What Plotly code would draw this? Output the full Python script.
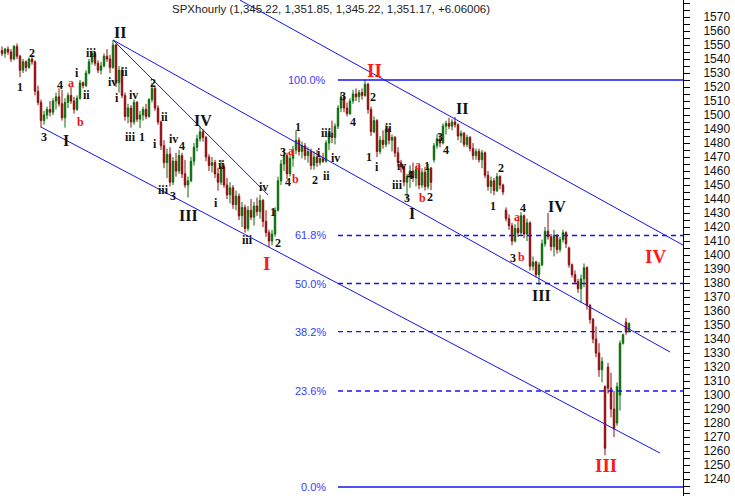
import plotly.graph_objects as go

# ---------------- data ----------------
opens = [1546,1544,1547,1545,1540,1549,1542,1532,1538,1534,1540,1538,1517,1509,1496,1500,1504,1502,1510,1513,
         1508,1498,1509,1514,1510,1504,1512,1523,1521,1530,1538,1544,1537,1532,1535,1542,1540,1534,1550,1523,
         1532,1514,1499,1505,1495,1509,1497,1500,1504,1499,1511,1519,1505,1495,1478,1466,1472,1452,1467,1460,
         1471,1458,1450,1453,1467,1477,1483,1488,1484,1470,1464,1466,1458,1452,1463,1450,1443,1448,1436,1442,
         1428,1434,1419,1432,1427,1435,1431,1439,1424,1416,1410,1415,1432,1453,1465,1471,1458,1469,1475,1482,
         1474,1478,1471,1474,1464,1470,1466,1469,1467,1480,1487,1484,1492,1505,1513,1505,1501,1510,1515,1513,
         1516,1514,1522,1504,1488,1496,1474,1482,1479,1490,1482,1484,1473,1466,1463,1452,1456,1460,1455,1461,
         1450,1459,1449,1462,1468,1478,1483,1480,1492,1494,1492,1495,1493,1485,1487,1479,1484,1476,1471,1474,
         1468,1473,1457,1449,1453,1446,1456,1450,1432,1426,1421,1410,1419,1416,1428,1415,1423,1392,1395,1386,
         1393,1408,1417,1413,1406,1414,1404,1411,1416,1405,1393,1386,1381,1376,1383,1391,1364,1354,1340,1330,
         1318,1306,1320,1305,1290,1280,1300,1337,1352,1345.22]
highs = [1549,1548,1549,1547,1550,1551,1543,1540,1539,1541,1543,1539,1521,1511,1503,1506,1510,1512,1516,1519,
         1518,1512,1516,1520,1513,1514,1525,1524,1532,1540,1546,1545,1539,1538,1544,1547,1543,1553.6,1551,1535,
         1534,1516,1508,1507,1511,1510,1503,1506,1508,1512,1523,1520,1507,1496,1482,1476,1477,1470,1473,1475,
         1473,1468,1456,1470,1480,1486,1492,1490,1485,1472,1470,1468,1462,1468,1465,1455,1452,1450,1446,1444,
         1438,1436,1435,1440,1438,1441,1443,1440,1432,1418,1418,1434,1456,1468,1476,1473,1472,1478,1489,1484,
         1481,1480,1477,1476,1474,1475,1471,1473,1482,1490,1496,1494,1507,1516,1514,1509,1512,1518,1519,1518,
         1519,1525,1523,1506,1499,1497,1485,1489,1493,1491,1486,1485,1477,1468,1465,1458,1464,1466,1463,1464,
         1462,1463,1465,1463,1480,1486,1487,1494,1496,1498,1497,1498.6,1494,1489,1488,1486,1485,1480,1476,1476,
         1475,1474,1460,1456,1455,1458.6,1457,1451,1434,1429,1423,1422,1425,1430.7,1429,1426,1424,1399,1396,1395,
         1411,1420,1430,1415,1418,1415,1413,1418,1417,1406,1394,1389,1383,1386,1394,1392,1365,1355,1349,1337,
         1327,1307,1323,1316,1303,1309,1339,1344,1355,1351.85]
lows = [1542,1541,1543,1538,1539,1540,1527,1530,1531,1533,1536,1514,1507,1491,1493,1497,1499,1500,1504,1506,
        1496,1491,1505,1508,1501,1503,1511,1519,1520,1529,1536,1535,1530,1529,1534,1538,1530,1533,1520,1516,
        1512,1496,1494,1491,1493,1495,1490.7,1496,1497,1498,1509,1503,1493,1475,1462,1455,1449,1450,1456,1458,
        1455,1448,1441,1452,1464,1474,1481,1481,1467,1460,1459,1455,1446,1450,1448,1440,1437,1433,1432,1425,
        1420,1416,1417,1425,1421,1428,1426,1420,1413,1405.7,1407,1413,1431,1450,1460,1454,1456,1463,1472,1471,
        1469,1468,1466,1461,1461,1463,1464,1465.7,1466,1475,1480,1479,1490,1502,1502,1499,1500,1508,1510,1509,
        1511,1513,1501,1485,1487,1470,1472,1476,1477,1479,1474,1470,1463,1459,1449,1439.3,1448,1452,1449,1447,
        1448,1446,1447,1446.4,1466,1476,1477,1479,1486,1490,1489,1491,1482,1480,1477,1477,1474,1468,1468,1466,
        1462,1455,1446,1444,1442.8,1445,1447,1443,1424,1418,1407,1409,1413,1414,1412,1410,1389,1389,1384,1378.6,
        1392,1406,1411,1403,1399,1401,1402,1409,1405,1391,1384,1379,1373,1366,1377,1361,1351,1337,1327,1313,
        1309,1257,1301,1284,1270,1278,1289,1336,1343,1345.22]
closes = [1544,1547,1545,1540,1549,1542,1532,1538,1534,1540,1538,1517,1509,1496,1500,1504,1502,1510,1513,1508,
          1498,1509,1514,1510,1504,1512,1523,1521,1530,1538,1544,1537,1532,1535,1542,1540,1534,1550,1523,1532,
          1514,1499,1505,1495,1509,1497,1500,1504,1499,1511,1519,1505,1495,1478,1466,1472,1452,1467,1460,1471,
          1458,1450,1453,1467,1477,1483,1488,1484,1470,1464,1466,1458,1452,1463,1450,1443,1448,1436,1442,1428,
          1434,1419,1432,1427,1435,1431,1439,1424,1416,1410,1415,1432,1453,1465,1471,1458,1469,1475,1482,1474,
          1478,1471,1474,1464,1470,1466,1469,1467,1480,1487,1484,1492,1505,1513,1505,1501,1510,1515,1513,1516,
          1514,1522,1504,1488,1496,1474,1482,1479,1490,1482,1484,1473,1466,1463,1452,1456,1460,1455,1461,1450,
          1459,1449,1462,1452,1478,1483,1480,1492,1494,1492,1495,1493,1485,1487,1479,1484,1476,1471,1474,1468,
          1473,1457,1449,1453,1446,1456,1450,1445,1426,1421,1410,1419,1416,1428,1415,1423,1392,1395,1386,1393,
          1408,1417,1413,1406,1414,1404,1411,1416,1408,1393,1386,1381,1376,1383,1391,1364,1354,1340,1330,1318,
          1324,1262,1305,1290,1276,1306,1337,1343,1345,1351.17]
bar_index = list(range(len(closes)))

title_text = "SPXhourly (1,345.22, 1,351.85, 1,345.22, 1,351.17, +6.06006)"
tick_values = list(range(1240, 1571, 10))

# Fibonacci retracement
fib_high = 1525.0
fib_low = 1234.3
fib_ratios = [1.0, 0.618, 0.5, 0.382, 0.236, 0.0]
fib_names = ["100.0%", "61.8%", "50.0%", "38.2%", "23.6%", "0.0%"]

# channel / trend lines (bar index, price)
channel_x0 = [79.3, 37, 13, 37]
channel_y0 = [1582.1, 1553.6, 1491.4, 1553.6]
channel_x1 = [227.0, 222.7, 219.3, 88.7]
channel_y1 = [1407.1, 1330.7, 1258.6, 1442.9]

# Elliott wave labels
minor_text = ["2","1","3","4","ii","i","iii","iv","ii","i","iv","2","iii","1","ii","i","iv","4","iii","3",
              "ii","i","iii","iv","1","2","3","4","1","i","2","ii","iv","iii","3","4","2","ii","1","i",
              "iv","1","4","iii","3","2","3","4","2","1","4","3"]
minor_x = [10,6,14,19.3,28,25,29.7,36.7,40.7,38.3,43.7,50.3,42.7,46.7,54.3,51,57,60,53.7,57,
           73.3,71.3,81.7,87,90.3,92,93.7,95.3,98.7,105.7,104.3,108,111.3,108.3,113.7,117,123.7,128.7,122.3,125,
           133.3,141.7,136,131.7,135,142.7,146,148,166.3,163.7,173.7,170.3]
minor_y = [1544.3,1520,1484.3,1521.4,1514.3,1530,1544.3,1523.6,1530.7,1512.1,1514.3,1522.9,1484.3,1484.3,1498.6,1479.3,1482.9,1477.9,1446.4,1442.1,
           1464.3,1437.1,1410.7,1448.6,1430.7,1408.6,1473.6,1452.1,1491.4,1472.9,1453.6,1456.4,1469.3,1487.1,1513.6,1495,1512.9,1490.7,1470,1462.9,
           1463.6,1463.6,1457.1,1450,1440.7,1441.4,1484.3,1475,1462.1,1435,1433.6,1397.9]

ab_text = ["a","b","a","b","a","b","a","b"]
ab_x = [23,26,96.3,97.7,138.7,140,171.7,173.3]
ab_y = [1522.9,1495,1474.3,1454.3,1464.3,1440.7,1427.1,1398.6]

major_text = ["II","I","IV","III","I","II","IV","III"]
major_x = [39.3,21.3,67,62.3,136.7,153.3,185,179.7]
major_y = [1558.6,1482.1,1496.4,1427.9,1430,1505,1435,1371.4]

primary_text = ["II","I","III","IV"]
primary_x = [124,88.3,201.3,217.7]
primary_y = [1532.1,1394.3,1250,1398.6]

# ---------------- styles ----------------
UP = "#0a6b0a"
DOWN = "#8e0b0b"
BLUE = "#1414f0"
FIB_TEXT = "#3a3aff"
SERIF = "Liberation Serif, Times New Roman, serif"
SANS = "Liberation Sans, Arial, sans-serif"

fig = go.Figure()
fig.add_trace(go.Candlestick(
    x=bar_index, open=opens, high=highs, low=lows, close=closes,
    increasing=dict(line=dict(color=UP, width=1), fillcolor=UP),
    decreasing=dict(line=dict(color=DOWN, width=1), fillcolor=DOWN),
    whiskerwidth=0, showlegend=False, hoverinfo="skip"))

shapes = []
annotations = []

fib_x_start = 112
fib_label_x = 108.7
for r, name in zip(fib_ratios, fib_names):
    level = fib_low + r * (fib_high - fib_low)
    solid = r in (0.0, 1.0)
    shapes.append(dict(type="line", xref="x", yref="y", x0=fib_x_start, x1=227.5, y0=level, y1=level,
                       line=dict(color=BLUE, width=1.5 if solid else 1.3, dash="solid" if solid else "5px,4px")))
    annotations.append(dict(x=fib_label_x, y=level, xref="x", yref="y", text=name, showarrow=False,
                            xanchor="right", yanchor="middle",
                            font=dict(family=SANS, size=11, color=FIB_TEXT)))

for x0, y0, x1, y1 in zip(channel_x0, channel_y0, channel_x1, channel_y1):
    shapes.append(dict(type="line", xref="x", yref="y", x0=x0, y0=y0, x1=x1, y1=y1,
                       line=dict(color=BLUE, width=1)))

def add_labels(texts, xs, ys, size, color):
    for t, x, y in zip(texts, xs, ys):
        annotations.append(dict(x=x, y=y, xref="x", yref="y", text="<b>%s</b>" % t, showarrow=False,
                                xanchor="center", yanchor="middle",
                                font=dict(family=SERIF, size=size, color=color)))

add_labels(minor_text, minor_x, minor_y, 12, "#111111")
add_labels(ab_text, ab_x, ab_y, 12, "#ee1111")
add_labels(major_text, major_x, major_y, 16, "#111111")
add_labels(primary_text, primary_x, primary_y, 19, "#ff1a1a")

annotations.append(dict(xref="paper", yref="paper", x=170 / 683, y=1 - 9 / 496, text=title_text,
                        showarrow=False, xanchor="left", yanchor="middle",
                        font=dict(family=SANS, size=11.5, color="#222222")))

fig.update_layout(
    width=735, height=496,
    margin=dict(l=0, r=52, t=0, b=0),
    paper_bgcolor="white", plot_bgcolor="white",
    shapes=shapes, annotations=annotations,
    showlegend=False,
    xaxis=dict(range=[-0.667, 227.0], visible=False, rangeslider=dict(visible=False), fixedrange=True),
    yaxis=dict(range=[1227.9, 1582.14], side="right", tickvals=tick_values,
               ticks="outside", ticklen=6, tickcolor="black", showline=True, linecolor="black", linewidth=1,
               showgrid=False, zeroline=False, ticklabelstandoff=11,
               tickfont=dict(family=SANS, size=12, color="#111111"),
               minor=dict(dtick=5, tick0=1240, ticks="outside", ticklen=6, tickcolor="black")),
)

fig.write_html("out.html", config={"displayModeBar": False},
               post_script="document.body.style.margin='0';document.body.style.overflow='hidden';")
